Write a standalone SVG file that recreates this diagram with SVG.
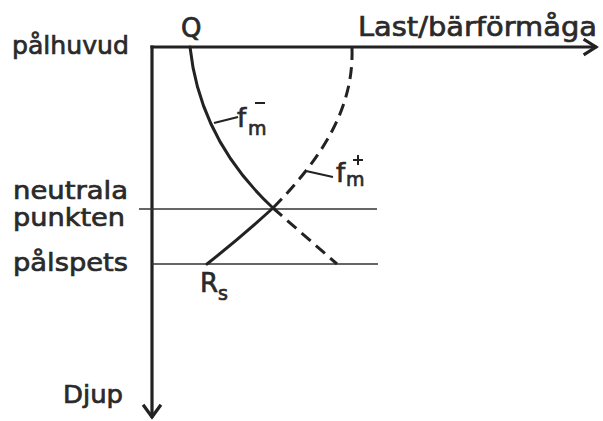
<svg xmlns="http://www.w3.org/2000/svg" width="603" height="421" viewBox="0 0 603 421">
<style>
text{font-family:"DejaVu Sans","Liberation Sans",sans-serif;fill:#2a2a2a;stroke:#2a2a2a;stroke-width:0.7}
.lbl{font-size:25px}
.ax{stroke:#222;stroke-width:3.2;fill:none;stroke-linecap:square}
.thin{stroke:#333;stroke-width:1.6;fill:none}
.crv{stroke:#222;stroke-width:3;fill:none;stroke-linecap:round}
.dash{stroke:#222;stroke-width:3;fill:none;stroke-dasharray:12 7}
.ld{stroke:#222;stroke-width:2;fill:none}
</style>
<rect width="603" height="421" fill="#fff"/>
<g id="connectors">
<path class="ax" d="M152,47 V416"/>
<path class="ax" d="M144,406 L152,417 L160,406"/>
<path class="ax" d="M152,47 H595"/>
<path class="ax" d="M585,40 L596,47 L585,54"/>
<path class="thin" d="M139,209 H377"/>
<path class="thin" d="M152,264 H378"/>
<path class="crv" d="M190,47 Q200,140 273,208"/>
<path class="dash" d="M273,208 L337,264"/>
<path class="dash" d="M352,48 C354,110 320,160 273,208"/>
<path class="crv" d="M273,208 Q240,238 207,264"/>
<path class="ld" d="M214,123 L238,117"/>
<path class="ld" d="M306,171 L333,177"/>
</g>
<g id="labels">
<text class="lbl" x="12" y="54" textLength="117" lengthAdjust="spacingAndGlyphs">pålhuvud</text>
<text x="181" y="37" font-size="26">Q</text>
<text x="358" y="36" font-size="27" textLength="239" lengthAdjust="spacingAndGlyphs">Last/bärförmåga</text>
<text class="lbl" x="13" y="199" textLength="115" lengthAdjust="spacingAndGlyphs">neutrala</text>
<text class="lbl" x="13" y="226" textLength="112" lengthAdjust="spacingAndGlyphs">punkten</text>
<text class="lbl" x="13" y="271" textLength="115" lengthAdjust="spacingAndGlyphs">pålspets</text>
<text class="lbl" x="63" y="403" textLength="60" lengthAdjust="spacingAndGlyphs">Djup</text>
</g>
<g id="fm-minus">
<text x="237" y="127" font-size="26">f</text>
<text x="248" y="135" font-size="19">m</text>
<path class="ld" d="M255,103 H265"/>
</g>
<g id="fm-plus">
<text x="336" y="182" font-size="26">f</text>
<text x="346" y="186" font-size="19">m</text>
<path class="ld" d="M353,160 H363 M358,155 V165"/>
</g>
<g id="Rs">
<text x="200" y="292" font-size="26">R</text>
<text x="218" y="300" font-size="19">s</text>
</g>
</svg>
